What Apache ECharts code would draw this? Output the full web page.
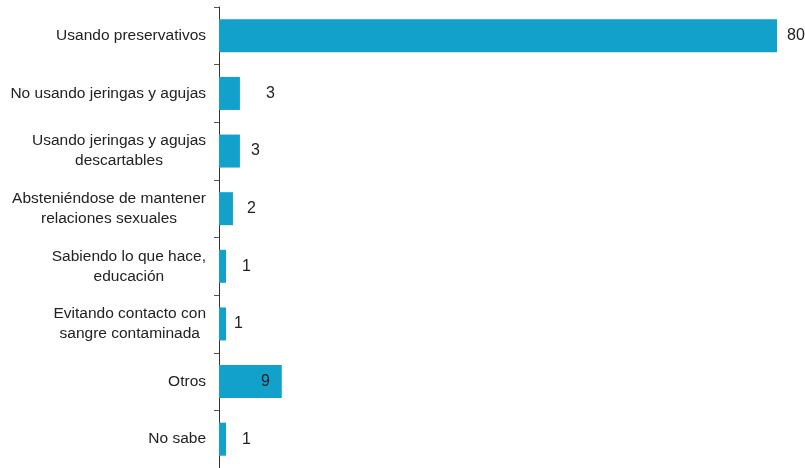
<!DOCTYPE html>
<html><head><meta charset="utf-8">
<script src="https://cdn.jsdelivr.net/npm/echarts@6/dist/echarts.min.js"></script>
<style>html,body{margin:0;padding:0;background:#fff}#c{width:805px;height:468px}</style>
</head><body><div id="c"></div>
<script>
var categories = [
  "Usando preservativos",
  "No usando jeringas y agujas",
  "Usando jeringas y agujas\ndescartables",
  "Absteniéndose de mantener\nrelaciones sexuales",
  "Sabiendo lo que hace,\neducación",
  "Evitando contacto con\nsangre contaminada",
  "Otros",
  "No sabe"
];
var values = [80, 3, 3, 2, 1, 1, 9, 1];

var FONT = '"Liberation Sans Narrow", "Arial Narrow", "Liberation Sans", sans-serif';
// label placement per bar (visual styling only)
var labelGap = [10, 26, 11, 14, 16, 8, 12, 16];
var labelPos = ['right','right','right','right','right','right','insideRight','right'];

var chart = echarts.init(document.getElementById('c'));
chart.setOption({
  animation: false,
  grid: {left: 219, right: 28, top: 7, bottom: 0, containLabel: false, outerBoundsMode: 'none'},
  xAxis: {type: 'value', min: 0, max: 80, show: false},
  yAxis: {
    type: 'category', inverse: true, data: categories,
    axisLine: {show: true, lineStyle: {color: '#333', width: 1}},
    axisTick: {show: true, length: 5, lineStyle: {color: '#555'}},
    axisLabel: {
      margin: 13, align: 'right',
      formatter: function(s){ return s.split('\n').map(function(l){ return '{c|' + l + '}'; }).join('\n'); },
      rich: {c: {align: 'center', color: '#222', fontFamily: FONT, fontSize: 15.5, lineHeight: 20}}
    }
  },
  series: [{
    type: 'bar', barWidth: 33,
    itemStyle: {color: '#11A1CB'},
    data: values.map(function(v, i){
      return {value: v, label: {show: true, position: labelPos[i], distance: labelGap[i],
        color: '#222', fontFamily: FONT, fontSize: 16}};
    })
  }]
});
</script></body></html>
